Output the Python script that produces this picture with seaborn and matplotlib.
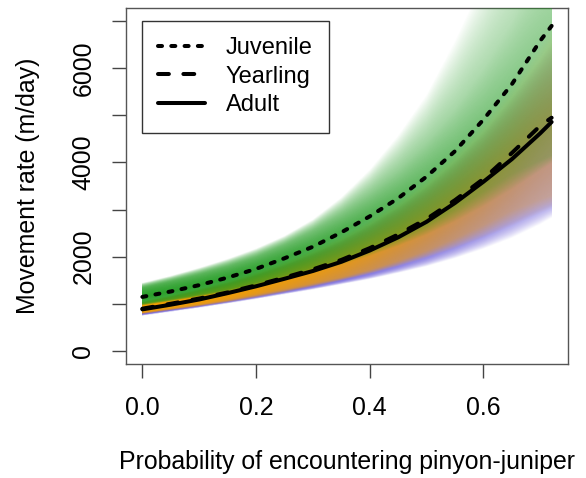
import numpy as np
import pandas as pd
import seaborn as sns
import matplotlib
matplotlib.use("Agg")
import matplotlib.pyplot as plt
from matplotlib.colors import to_rgb
from matplotlib.lines import Line2D

# probability of encountering pinyon-juniper (x grid the curves were read at)
x_pj = [0, .05, .1, .15, .2, .25, .3, .35, .4, .45, .5, .55, .6, .65, .7, .72]

# posterior mean movement rate (m/day)
juv_mean = [1145, 1260, 1395, 1555, 1740, 1965, 2210, 2515, 2855, 3240, 3700, 4240, 4910, 5660, 6585, 6900]
yr_mean = [895, 1000, 1110, 1240, 1390, 1555, 1730, 1930, 2180, 2470, 2800, 3200, 3650, 4200, 4780, 4950]
ad_mean = [880, 980, 1090, 1225, 1370, 1530, 1695, 1890, 2130, 2410, 2740, 3140, 3590, 4070, 4620, 4860]

# spread of the posterior draws: dense core and faint outer edge
juv_lo_out = [960, 1050, 1140, 1240, 1360, 1500, 1650, 1820, 2010, 2220, 2460, 2740, 3060, 3420, 3820, 3980]
juv_lo = [1000, 1090, 1190, 1300, 1440, 1600, 1770, 1960, 2180, 2420, 2700, 3020, 3380, 3760, 4050, 4150]
juv_hi = [1330, 1470, 1620, 1790, 1990, 2250, 2550, 2910, 3330, 3820, 4420, 5130, 6000, 7000, 8300, 8800]
juv_hi_out = [1440, 1590, 1760, 1950, 2170, 2440, 2790, 3260, 3850, 4580, 5450, 6600, 7900, 9400, 11300, 12100]

yr_lo_out = [780, 860, 940, 1030, 1130, 1240, 1360, 1490, 1630, 1790, 1970, 2170, 2400, 2650, 2920, 3020]
yr_lo = [820, 905, 990, 1090, 1200, 1310, 1430, 1560, 1720, 1910, 2130, 2390, 2670, 2980, 3220, 3300]
yr_hi = [980, 1100, 1230, 1370, 1540, 1730, 1940, 2180, 2470, 2820, 3220, 3700, 4250, 4900, 5650, 5900]
yr_hi_out = [1050, 1180, 1320, 1480, 1670, 1890, 2140, 2430, 2770, 3170, 3640, 4200, 4850, 5620, 6500, 6900]

ad_lo_out = [745, 830, 915, 1005, 1100, 1200, 1300, 1410, 1520, 1650, 1790, 1960, 2160, 2390, 2680, 2820]
ad_lo = [790, 870, 955, 1050, 1150, 1255, 1365, 1485, 1620, 1780, 1960, 2180, 2430, 2720, 3000, 3100]
ad_hi = [960, 1070, 1190, 1330, 1490, 1670, 1870, 2100, 2380, 2700, 3080, 3530, 4050, 4650, 5350, 5600]
ad_hi_out = [1030, 1150, 1290, 1440, 1620, 1830, 2070, 2350, 2680, 3060, 3500, 4030, 4650, 5380, 6200, 6550]

groups = ["Juvenile", "Yearling", "Adult"]
y_ticks = [0, 1000, 2000, 3000, 4000, 5000, 6000, 7000]
y_ticklabels = ["0", "", "2000", "", "4000", "", "6000", ""]
x_ticks = [0.0, 0.2, 0.4, 0.6]
x_ticklabels = ["0.0", "0.2", "0.4", "0.6"]

XLIM = (-0.0288, 0.7488)
YLIM = (-280, 7280)

sns.set_style("white")
plt.rcParams["font.family"] = ["Liberation Sans", "DejaVu Sans"]
plt.rcParams["text.color"] = "black"
plt.rcParams["axes.labelcolor"] = "black"

fig = plt.figure(figsize=(5.86, 4.78), dpi=100)
ax = fig.add_axes([126 / 586, 1 - 364 / 478, 442 / 586, 356 / 478])

px_per_unit = 356 / (YLIM[1] - YLIM[0])


def draw_fan(lo_out, lo, mid, hi, hi_out, color, c, z, p=0.6):
    """shade the spread of the draws; denser near the mean, fading where it widens"""
    lo_out, lo, mid, hi, hi_out = [np.asarray(v, float) for v in (lo_out, lo, mid, hi, hi_out)]
    nx, ny = 360, 500
    xs = np.linspace(x_pj[0], x_pj[-1], nx)
    ys = np.linspace(YLIM[0], YLIM[1], ny)
    alpha = np.zeros((ny, nx))
    for j, xv in enumerate(xs):
        e = [np.interp(xv, x_pj, v) for v in (lo_out, lo, mid, hi, hi_out)]
        w = (e[3] - e[1]) * px_per_unit
        f = np.interp(ys, e, [0, 0.5, 1, 0.5, 0], left=0, right=0)
        alpha[:, j] = 1 - np.exp(-c * f / w ** p)
    rgba = np.zeros((ny, nx, 4))
    rgba[..., :3] = to_rgb(color)
    rgba[..., 3] = alpha
    ax.imshow(rgba, extent=(x_pj[0], x_pj[-1], YLIM[0], YLIM[1]), aspect="auto",
              origin="lower", interpolation="bilinear", zorder=z)


purple = "#6A5AD8"
orange = "#F5A000"
green = "#1F9A1F"

draw_fan(ad_lo_out, ad_lo, ad_mean, ad_hi, ad_hi_out, purple, 26.0, 1)
draw_fan(yr_lo_out, yr_lo, yr_mean, yr_hi, yr_hi_out, orange, 30.0, 2, p=0.75)
draw_fan(juv_lo_out, juv_lo, juv_mean, juv_hi, juv_hi_out, green, 16.0, 3)

# mean curves
df = pd.DataFrame({
    "pj": x_pj * 3,
    "rate": juv_mean + yr_mean + ad_mean,
    "group": np.repeat(groups, len(x_pj)),
})
dash_map = {"Juvenile": (1.0, 2.3), "Yearling": (2.7, 3.6), "Adult": ""}
sns.lineplot(data=df, x="pj", y="rate", style="group", style_order=groups,
             dashes=dash_map, color="black", lw=2.9, errorbar=None,
             legend=False, sort=False, ax=ax, zorder=5)
for ln in ax.lines:
    ln.set_dash_capstyle("round")
    ln.set_solid_capstyle("round")

handles = [Line2D([], [], color="black", lw=2.9, dash_capstyle="round",
                  linestyle=(0, dash_map[g]) if dash_map[g] else "-") for g in groups]
leg = ax.legend(handles, groups, loc="upper left", bbox_to_anchor=(0.0355, 0.964),
                borderaxespad=0, fontsize=17, frameon=True, fancybox=False,
                handlelength=2.0, handletextpad=0.85, borderpad=0.7, labelspacing=0.27)
leg.get_frame().set_edgecolor("#333333")
leg.get_frame().set_linewidth(1.0)
leg.get_frame().set_alpha(1)
leg.set_zorder(10)

ax.set_xlim(*XLIM)
ax.set_ylim(*YLIM)
ax.set_xticks(x_ticks)
ax.set_xticklabels(x_ticklabels)
ax.set_yticks(y_ticks)
ax.set_yticklabels(y_ticklabels, rotation=90, va="center")
ax.tick_params(direction="out", length=10, width=1, color="#444444",
               labelsize=17.9, labelcolor="black", left=True, bottom=True)
ax.tick_params(axis="x", pad=13)
ax.tick_params(axis="y", pad=12)
for sp in ax.spines.values():
    sp.set_color("#555555")
    sp.set_linewidth(1.0)

ax.set_xlabel("Probability of encountering pinyon-juniper", fontsize=17.9, labelpad=22)
ax.set_ylabel("Movement rate (m/day)", fontsize=17.9, labelpad=22.5)

fig.savefig("out.png", dpi=100)
